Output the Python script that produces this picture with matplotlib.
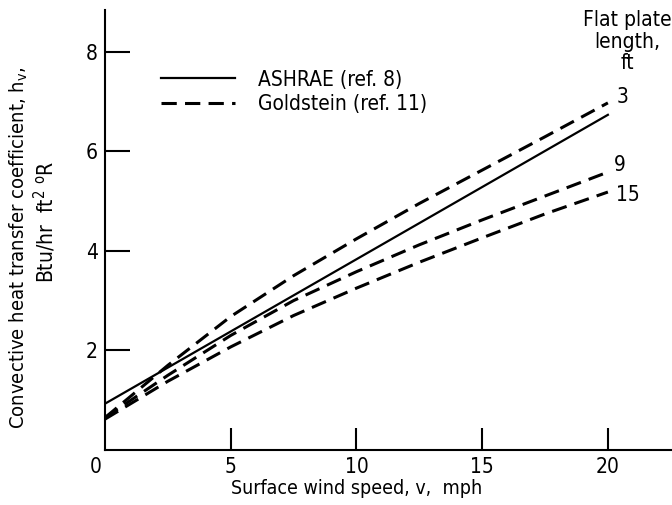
import matplotlib
matplotlib.use("Agg")
import matplotlib.pyplot as plt

plt.rcParams['font.family'] = ['DejaVu Sans']
plt.rcParams['font.stretch'] = 'condensed'

# Data
wind_speed = [0, 2.5, 5, 7.5, 10, 12.5, 15, 17.5, 20]
ashrae = [0.93, 1.655, 2.38, 3.105, 3.83, 4.555, 5.28, 6.005, 6.73]
goldstein_3ft = [0.65, 1.70, 2.68, 3.50, 4.24, 4.95, 5.62, 6.29, 6.97]
goldstein_9ft = [0.65, 1.50, 2.30, 3.00, 3.58, 4.12, 4.62, 5.10, 5.58]
goldstein_15ft = [0.62, 1.38, 2.07, 2.70, 3.25, 3.77, 4.26, 4.74, 5.18]
plate_labels = ['3', '9', '15']
x_ticks = [5, 10, 15, 20]
y_ticks = [2, 4, 6, 8]

FS = 15
W, H = 672, 505
fig = plt.figure(figsize=(W / 100, H / 100), dpi=100)
ax = fig.add_axes([105 / W, 55 / H, 567 / W, 440 / H])
ax.set_xlim(0, 22.55)
ax.set_ylim(0, 8.835)

dash = (0, (5, 2.7))
l1, = ax.plot(wind_speed, ashrae, color='black', lw=1.6, label='ASHRAE (ref. 8)')
l2, = ax.plot(wind_speed, goldstein_3ft, color='black', lw=2.2, linestyle=dash,
              label='Goldstein (ref. 11)')
ax.plot(wind_speed, goldstein_9ft, color='black', lw=2.2, linestyle=dash)
ax.plot(wind_speed, goldstein_15ft, color='black', lw=2.2, linestyle=dash)

for series, lab, dx, dy in zip([goldstein_3ft, goldstein_9ft, goldstein_15ft],
                               plate_labels, [6, 4, 6], [4, 5, -2]):
    ax.annotate(lab, xy=(wind_speed[-1], series[-1]), xytext=(dx, dy),
                textcoords='offset points', ha='left', va='center', fontsize=FS)

ax.text(0.922, 1.0, 'Flat plate\nlength,\nft', transform=ax.transAxes,
        ha='center', va='top', fontsize=FS, linespacing=1.1)

ax.spines['top'].set_visible(False)
ax.spines['right'].set_visible(False)
for s in ['left', 'bottom']:
    ax.spines[s].set_linewidth(1.5)

ax.set_xticks(x_ticks)
ax.set_yticks(y_ticks)
ax.tick_params(axis='x', direction='in', length=16, width=1.5, labelsize=FS, pad=5)
ax.tick_params(axis='y', direction='in', length=18, width=1.5, labelsize=FS, pad=5)
ax.annotate('0', xy=(0, 0), xytext=(-7, -5), textcoords='offset points',
            ha='center', va='top', fontsize=FS)

ax.set_xlabel('Surface wind speed, v,  mph', fontsize=14, labelpad=1)
ax.xaxis.set_label_coords(10 / 22.55, -0.065)

fig.text(19 / W, 1 - 248 / H, 'Convective heat transfer coefficient, h$_\\mathregular{v}$,',
         rotation=90, ha='center', va='center', fontsize=14.5)
fig.text(45 / W, 1 - 222 / H, 'Btu/hr  ft$^\\mathregular{2}$ $^\\mathregular{o}$R',
         rotation=90, ha='center', va='center', fontsize=15)

leg = ax.legend(handles=[l1, l2], frameon=False, loc='upper left',
                bbox_to_anchor=(142 / W, 1 - 51 / H), bbox_transform=fig.transFigure,
                fontsize=FS, handlelength=3.57, handletextpad=1.1, labelspacing=0.2)

fig.savefig('out.png', dpi=100)
